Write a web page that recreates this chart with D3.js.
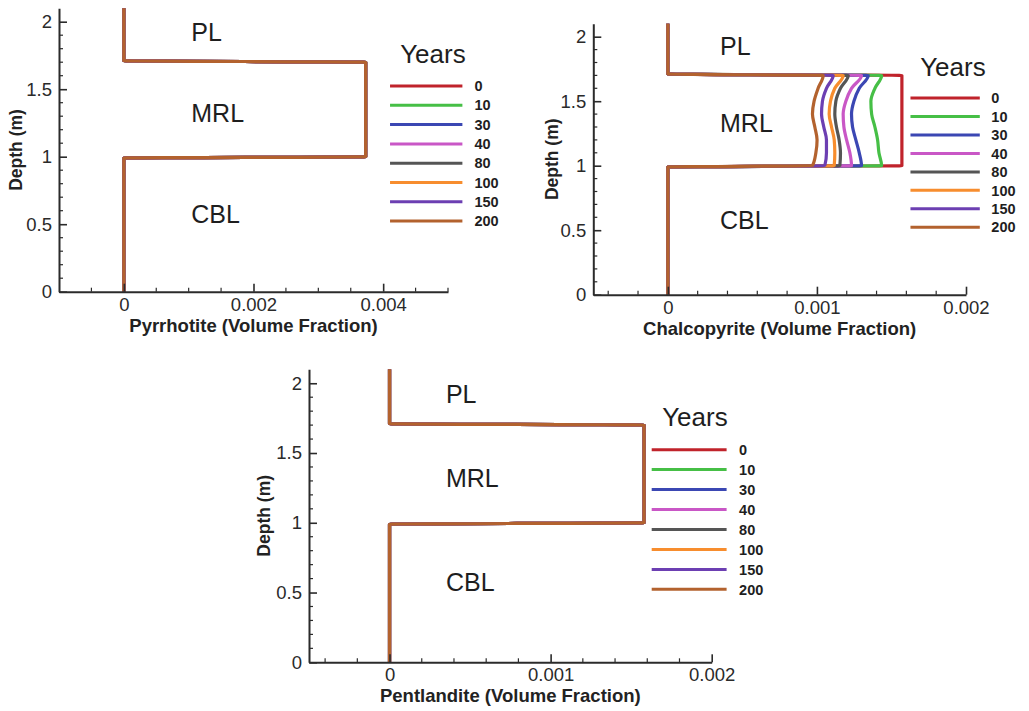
<!DOCTYPE html>
<html>
<head>
<meta charset="utf-8">
<script src="https://cdn.jsdelivr.net/npm/d3@7"></script>
<style>
  html, body { margin: 0; padding: 0; background: #fff; }
  svg { display: block; }
  text { font-family: "Liberation Sans", Arial, Helvetica, sans-serif; }
</style>
</head>
<body>
<svg id="chart" width="1029" height="711"></svg>
<script>
// ---------------- DATA ----------------
const years = ["0", "10", "30", "40", "80", "100", "150", "200"];
const yearColors = ["#c0232b", "#46bf46", "#3b47b3", "#c957c6", "#555555", "#f78d2e", "#6c3fb2", "#b3622e"];

// depth grid (m), top to bottom
const depths = [2.1, 1.71, 1.70, 1.60, 1.50, 1.40, 1.30, 1.20, 1.10, 1.00, 0.99, 0];

// Pyrrhotite volume fraction per year (profiles overlap)
const pyrrhotite = [
  [0, 0, 0.00373, 0.00373, 0.00373, 0.00373, 0.00373, 0.00373, 0.00373, 0.00373, 0, 0],
  [0, 0, 0.00373, 0.00373, 0.00373, 0.00373, 0.00373, 0.00373, 0.00373, 0.00373, 0, 0],
  [0, 0, 0.00373, 0.00373, 0.00373, 0.00373, 0.00373, 0.00373, 0.00373, 0.00373, 0, 0],
  [0, 0, 0.00373, 0.00373, 0.00373, 0.00373, 0.00373, 0.00373, 0.00373, 0.00373, 0, 0],
  [0, 0, 0.00373, 0.00373, 0.00373, 0.00373, 0.00373, 0.00373, 0.00373, 0.00373, 0, 0],
  [0, 0, 0.00373, 0.00373, 0.00373, 0.00373, 0.00373, 0.00373, 0.00373, 0.00373, 0, 0],
  [0, 0, 0.00373, 0.00373, 0.00373, 0.00373, 0.00373, 0.00373, 0.00373, 0.00373, 0, 0],
  [0, 0, 0.00373, 0.00373, 0.00373, 0.00373, 0.00373, 0.00373, 0.00373, 0.00373, 0, 0]
];

// Chalcopyrite volume fraction per year
const chalcopyrite = [
  [0, 0, 0.001570, 0.001570, 0.001570, 0.001570, 0.001570, 0.001570, 0.001570, 0.001570, 0, 0],
  [0, 0, 0.001434, 0.001389, 0.001362, 0.001367, 0.001389, 0.001407, 0.001416, 0.001434, 0, 0],
  [0, 0, 0.001344, 0.001284, 0.001248, 0.001232, 0.001239, 0.001261, 0.001284, 0.001299, 0, 0],
  [0, 0, 0.001299, 0.001232, 0.001194, 0.001176, 0.001181, 0.001199, 0.001221, 0.001232, 0, 0],
  [0, 0, 0.001210, 0.001158, 0.001127, 0.001120, 0.001131, 0.001149, 0.001158, 0.001154, 0, 0],
  [0, 0, 0.001176, 0.001120, 0.001091, 0.001082, 0.001098, 0.001116, 0.001120, 0.001116, 0, 0],
  [0, 0, 0.001109, 0.001064, 0.001037, 0.001031, 0.001046, 0.001064, 0.001064, 0.001053, 0, 0],
  [0, 0, 0.001042, 0.001008, 0.000981, 0.000970, 0.000986, 0.001001, 0.000993, 0.000970, 0, 0]
];

// Pentlandite volume fraction per year (profiles overlap)
const pentlandite = [
  [0, 0, 0.00158, 0.00158, 0.00158, 0.00158, 0.00158, 0.00158, 0.00158, 0.00158, 0, 0],
  [0, 0, 0.00158, 0.00158, 0.00158, 0.00158, 0.00158, 0.00158, 0.00158, 0.00158, 0, 0],
  [0, 0, 0.00158, 0.00158, 0.00158, 0.00158, 0.00158, 0.00158, 0.00158, 0.00158, 0, 0],
  [0, 0, 0.00158, 0.00158, 0.00158, 0.00158, 0.00158, 0.00158, 0.00158, 0.00158, 0, 0],
  [0, 0, 0.00158, 0.00158, 0.00158, 0.00158, 0.00158, 0.00158, 0.00158, 0.00158, 0, 0],
  [0, 0, 0.00158, 0.00158, 0.00158, 0.00158, 0.00158, 0.00158, 0.00158, 0.00158, 0, 0],
  [0, 0, 0.00158, 0.00158, 0.00158, 0.00158, 0.00158, 0.00158, 0.00158, 0.00158, 0, 0],
  [0, 0, 0.00158, 0.00158, 0.00158, 0.00158, 0.00158, 0.00158, 0.00158, 0.00158, 0, 0]
];

// tick values
const depthMajor = [0, 0.5, 1, 1.5, 2];
const depthMinor = [0.1, 0.2, 0.3, 0.4, 0.6, 0.7, 0.8, 0.9, 1.1, 1.2, 1.3, 1.4, 1.6, 1.7, 1.8, 1.9];
const pyrMajor = [0, 0.002, 0.004];
const pyrMinor = [-0.0005, 0.0005, 0.001, 0.0015, 0.0025, 0.003, 0.0035, 0.0045, 0.005];
const smallMajor = [0, 0.001, 0.002];
const smallMinor = [-0.0004, -0.0002, 0.0002, 0.0004, 0.0006, 0.0008, 0.0012, 0.0014, 0.0016, 0.0018];

const regionNames = ["PL", "MRL", "CBL"];
const regionDepths = [1.86, 1.26, 0.51];

// ---------------- LAYOUT ----------------
const panels = [
  { title: "Pyrrhotite (Volume Fraction)", data: pyrrhotite, xDomain: [-0.001, 0.005],
    xMajor: pyrMajor, xMinor: pyrMinor, left: 59, right: 448, bottom: 291.7, top: 8.2, depthX: 15.5 },
  { title: "Chalcopyrite (Volume Fraction)", data: chalcopyrite, xDomain: [-0.0005, 0.002],
    xMajor: smallMajor, xMinor: smallMinor, left: 593.3, right: 966, bottom: 294.7, top: 23.8, depthX: 552 },
  { title: "Pentlandite (Volume Fraction)", data: pentlandite, xDomain: [-0.0005, 0.002],
    xMajor: smallMajor, xMinor: smallMinor, left: 309, right: 711.7, bottom: 662.3, top: 369.3, depthX: 263.5 }
];

const svg = d3.select("#chart");
const axisColor = "#2b2b2b";
const fmt = d3.format("~g");

panels.forEach(p => {
  const g = svg.append("g");
  const x = d3.scaleLinear().domain(p.xDomain).range([p.left, p.right]);
  const y = d3.scaleLinear().domain([0, 2.1]).range([p.bottom, p.top]);
  const w = p.right - p.left;

  // data lines
  const line = d3.line()
    .x(d => x(d[0]))
    .y(d => y(d[1]))
    .curve(d3.curveMonotoneY);
  p.data.forEach((vals, i) => {
    const pts = vals.map((v, k) => [v, depths[k]]);
    g.append("path")
      .attr("d", line(pts))
      .attr("fill", "none")
      .attr("stroke", yearColors[i])
      .attr("stroke-width", 3.2)
      .attr("stroke-linejoin", "round");
  });

  // axes: x (bottom), ticks inward
  const xAxis = g.append("g").attr("transform", `translate(0,${p.bottom})`);
  xAxis.call(d3.axisBottom(x).tickValues(p.xMajor).tickSize(-8).tickSizeOuter(0).tickPadding(10).tickFormat(fmt));
  xAxis.append("g").selectAll("line").data(p.xMinor).join("line")
    .attr("x1", d => x(d)).attr("x2", d => x(d)).attr("y1", 0).attr("y2", -4)
    .attr("stroke", axisColor).attr("stroke-width", 1.2);
  xAxis.select(".domain").attr("stroke", axisColor).attr("stroke-width", 2);
  xAxis.selectAll(".tick line").attr("stroke", axisColor).attr("stroke-width", 1.6);
  xAxis.selectAll(".tick text")
    .attr("y", 19).attr("dy", 0)
    .attr("font-size", 18.5).attr("fill", "#2a2a2a")
    .attr("font-family", "'Liberation Sans', Arial, sans-serif");

  // y axis (left), ticks inward
  const yAxis = g.append("g").attr("transform", `translate(${p.left},0)`);
  yAxis.call(d3.axisLeft(y).tickValues(depthMajor).tickSize(-8).tickSizeOuter(0).tickPadding(8).tickFormat(fmt));
  yAxis.append("g").selectAll("line").data(depthMinor).join("line")
    .attr("x1", 0).attr("x2", 4).attr("y1", d => y(d)).attr("y2", d => y(d))
    .attr("stroke", axisColor).attr("stroke-width", 1.2);
  yAxis.select(".domain").attr("stroke", axisColor).attr("stroke-width", 2);
  yAxis.selectAll(".tick line").attr("stroke", axisColor).attr("stroke-width", 1.6);
  yAxis.selectAll(".tick text")
    .attr("x", -7)
    .attr("font-size", 18.5).attr("fill", "#2a2a2a")
    .attr("font-family", "'Liberation Sans', Arial, sans-serif");

  // axis titles
  g.append("text")
    .attr("x", (p.left + p.right) / 2).attr("y", p.bottom + 40)
    .attr("text-anchor", "middle").attr("font-size", 18.5).attr("font-weight", "bold")
    .attr("fill", "#222").text(p.title);
  g.append("text")
    .attr("transform", `translate(${p.depthX},${(p.top + p.bottom) / 2}) rotate(-90)`)
    .attr("text-anchor", "middle").attr("dy", "0.36em")
    .attr("font-size", 17.5).attr("font-weight", "bold")
    .attr("fill", "#222").text("Depth (m)");

  // region labels
  regionNames.forEach((name, i) => {
    g.append("text")
      .attr("x", p.left + 0.34 * w).attr("y", y(regionDepths[i]))
      .attr("font-size", 25).attr("fill", "#1e1e1e").text(name);
  });

  // legend
  const lx = p.left + 0.851 * w;
  const llen = 0.186 * w;
  g.append("text")
    .attr("x", p.left + 0.877 * w).attr("y", y(1.692))
    .attr("font-size", 26).attr("fill", "#1e1e1e").text("Years");
  years.forEach((yr, i) => {
    const yy = y(1.524 - i * 0.143);
    g.append("line")
      .attr("x1", lx).attr("x2", lx + llen).attr("y1", yy).attr("y2", yy)
      .attr("stroke", yearColors[i]).attr("stroke-width", 3);
    g.append("text")
      .attr("x", p.left + 1.068 * w).attr("y", yy).attr("dy", "0.36em")
      .attr("font-size", 14.5).attr("font-weight", "bold").attr("fill", "#1e1e1e").text(yr);
  });
});
</script>
</body>
</html>
